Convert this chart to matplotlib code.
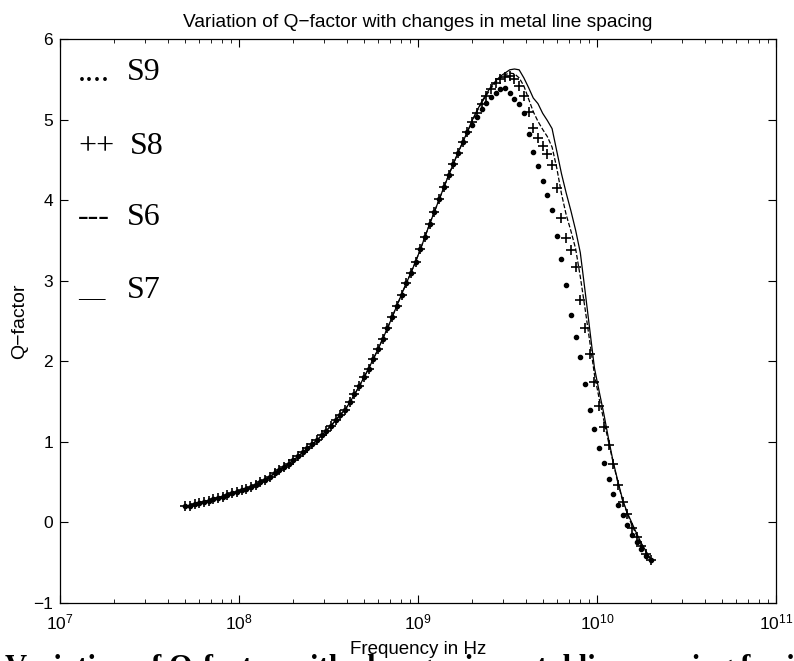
import numpy as np
import matplotlib
matplotlib.use("Agg")
from matplotlib import pyplot as plt
from matplotlib.ticker import LogLocator, NullFormatter

plt.rcParams['font.family'] = ['Liberation Sans', 'DejaVu Sans']
plt.rcParams['mathtext.fontset'] = 'custom'
plt.rcParams['mathtext.rm'] = 'Liberation Sans'
plt.rcParams['mathtext.it'] = 'Liberation Sans:italic'

# frequency sweep in Hz (log spaced, 100 points)
f_start = 5e7
f_stop = 2e10
n_points = 100
freq = np.logspace(np.log10(f_start), np.log10(f_stop), n_points)

# Q-factor, the four curves overlap below ~2 GHz
q_common = [0.20, 0.21, 0.23, 0.24, 0.26, 0.27, 0.29, 0.31, 0.32, 0.34,
            0.36, 0.38, 0.40, 0.42, 0.44, 0.47, 0.50, 0.53, 0.57, 0.61,
            0.65, 0.69, 0.73, 0.77, 0.82, 0.87, 0.92, 0.97, 1.02, 1.08,
            1.14, 1.20, 1.27, 1.34, 1.40, 1.49, 1.59, 1.69, 1.80, 1.91,
            2.03, 2.15, 2.28, 2.41, 2.55, 2.69, 2.83, 2.97, 3.10, 3.24,
            3.39, 3.55, 3.71, 3.86, 4.01, 4.16, 4.31, 4.45, 4.59, 4.72,
            4.85]

s9_tail = [4.94, 5.04, 5.13, 5.21, 5.28, 5.33, 5.38, 5.40, 5.33, 5.26,
           5.20, 5.08, 4.82, 4.60, 4.42, 4.24, 4.07, 3.88, 3.56, 3.27,
           2.95, 2.58, 2.30, 2.05, 1.72, 1.40, 1.16, 0.93, 0.74, 0.54,
           0.35, 0.22, 0.09, -0.03, -0.15, -0.24, -0.33, -0.42, -0.47]

s8_tail = [4.97, 5.08, 5.19, 5.29, 5.38, 5.45, 5.50, 5.53, 5.54, 5.50,
           5.42, 5.30, 5.10, 4.90, 4.77, 4.68, 4.58, 4.44, 4.15, 3.78,
           3.53, 3.38, 3.17, 2.76, 2.42, 2.09, 1.75, 1.45, 1.19, 0.96,
           0.73, 0.47, 0.26, 0.10, -0.07, -0.18, -0.29, -0.39, -0.46]

s6_tail = [4.98, 5.10, 5.21, 5.30, 5.39, 5.46, 5.52, 5.56, 5.58, 5.57,
           5.52, 5.42, 5.26, 5.10, 4.98, 4.88, 4.79, 4.66, 4.40, 4.08,
           3.82, 3.62, 3.40, 3.05, 2.66, 2.25, 1.84, 1.54, 1.27, 1.00,
           0.74, 0.49, 0.27, 0.11, -0.04, -0.16, -0.27, -0.37, -0.46]

s7_tail = [4.99, 5.11, 5.22, 5.32, 5.41, 5.48, 5.54, 5.58, 5.62, 5.63,
           5.62, 5.52, 5.40, 5.27, 5.20, 5.08, 4.99, 4.89, 4.61, 4.33,
           4.09, 3.87, 3.63, 3.35, 2.88, 2.40, 1.92, 1.63, 1.35, 1.04,
           0.75, 0.51, 0.28, 0.12, -0.01, -0.14, -0.26, -0.36, -0.46]

s9 = q_common + s9_tail
s8 = q_common + s8_tail
s6 = q_common + s6_tail
s7 = q_common + s7_tail

legend_names = ["S9", "S8", "S6", "S7"]
legend_marks = ["....", "++", "---", "\u2014"]

fig = plt.figure(figsize=(7.94, 6.61), dpi=100)
ax = fig.add_axes([0.0756, 0.0877, 0.9017, 0.853])

ax.plot(freq, s9, linestyle='none', marker='.', ms=6, color='k')
ax.plot(freq, s8, linestyle='none', marker='+', ms=6.5, mew=1.2, color='k')
ax.plot(freq, s6, '--', lw=0.9, color='k')
ax.plot(freq, s7, '-', lw=0.9, color='k')

ax.set_xscale('log')
ax.set_xlim(1e7, 1e11)
ax.set_ylim(-1, 6)
ax.set_yticks(range(-1, 7))
ax.xaxis.set_major_locator(LogLocator(base=10, numticks=10))
ax.xaxis.set_minor_locator(LogLocator(base=10, subs=np.arange(2, 10), numticks=20))
ax.xaxis.set_minor_formatter(NullFormatter())
ax.tick_params(which='both', direction='in', top=True, right=True, labelsize=12.5)
ax.tick_params(which='major', length=6, width=0.8)
ax.tick_params(which='minor', length=3, width=0.6)
ax.tick_params(axis='x', pad=7)
ax.tick_params(axis='y', pad=5)
for sp in ax.spines.values():
    sp.set_linewidth(0.9)

ax.set_title("Variation of Q\u2212factor with changes in metal line spacing", fontsize=13.8, pad=9)
ax.set_xlabel("Frequency in Hz", fontsize=13.5, labelpad=6)
ax.set_ylabel("Q\u2212factor", fontsize=14, labelpad=4)

# hand made legend: symbol then name
mark_y = [0.9255, 0.810, 0.684, 0.541]
mark_va = ['baseline', 'center', 'center', 'center']
name_y = [0.9415, 0.810, 0.684, 0.555]
name_x = [0.0927, 0.0974, 0.0927, 0.0927]
for i in range(len(legend_names)):
    ax.text(0.025, mark_y[i], legend_marks[i], transform=ax.transAxes,
            family='Liberation Serif', fontsize=23 if i < 3 else 19,
            va=mark_va[i], ha='left')
    ax.text(name_x[i], name_y[i], legend_names[i], transform=ax.transAxes,
            family='Liberation Serif', fontsize=23, va='center', ha='left')

# caption of the scanned page, cut off at the bottom edge
fig.text(0.006, -0.023, "Variation of Q-factor with changes in metal line spacing for inductors",
         family='Liberation Serif', weight='bold', fontsize=22, va='baseline')

fig.savefig("out.png", dpi=100)
